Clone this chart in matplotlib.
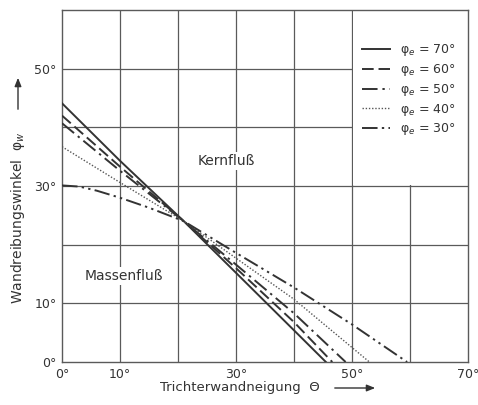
import matplotlib
matplotlib.use("Agg")
import matplotlib.pyplot as plt
from matplotlib.patches import Rectangle, FancyArrowPatch

plt.rcParams['font.family'] = ['DejaVu Sans']
plt.rcParams['mathtext.fontset'] = 'dejavusans'

# data (theta in deg, phi_w in deg)
theta_70 = [0, 10, 21, 30, 40, 45.5]
phi_70 = [44.1, 34.3, 24.0, 15.2, 5.4, 0]

theta_60 = [0, 10, 21, 30, 40, 46.6]
phi_60 = [42.0, 33.3, 24.0, 16.0, 6.8, 0]

theta_50 = [0, 10, 21, 30, 40, 48.9]
phi_50 = [40.7, 32.6, 24.0, 16.6, 8.3, 0]

theta_40 = [0, 10, 21, 30, 40, 53.0]
phi_40 = [36.7, 30.6, 24.0, 17.7, 10.7, 0]

theta_30 = [0, 3, 6, 10, 15, 21, 30, 40, 50, 59.5]
phi_30 = [30.1, 29.9, 29.2, 28.0, 26.3, 24.0, 18.6, 12.7, 6.4, 0]

series_labels = ["70°", "60°", "50°", "40°", "30°"]
x_ticks = [0, 10, 30, 50, 70]
x_ticklabels = ["0°", "10°", "30°", "50°", "70°"]
y_ticks = [0, 10, 30, 50]
y_ticklabels = ["0°", "10°", "30°", "50°"]

ink = "#333333"
gridc = "#5a5a5a"

fig = plt.figure(figsize=(4.78, 4.05), dpi=100)
ax = fig.add_axes([62/478, 43/405, 406/478, 352/405])
ax.set_xlim(0, 70)
ax.set_ylim(0, 60)

for g in range(10, 70, 10):
    ax.axvline(g, color=gridc, lw=0.9, zorder=1)
for g in range(10, 60, 10):
    ax.axhline(g, color=gridc, lw=0.9, zorder=1)

# white legend area covering grid
ax.add_patch(Rectangle((50.25, 30.25), 19.75, 29.75, facecolor="white",
                       edgecolor="none", zorder=2))

styles = ["-", (0, (6, 2.5)), (0, (8, 2.5, 1.2, 2.5)), (0, (1, 1.3)),
          (0, (8, 2.2, 1.2, 2.2, 1.2, 2.2))]
widths = [1.4, 1.4, 1.4, 1.0, 1.4]
colors = [ink, ink, ink, "#555555", ink]
data = [(theta_70, phi_70), (theta_60, phi_60), (theta_50, phi_50),
        (theta_40, phi_40), (theta_30, phi_30)]
for (tx, py), ls, lw, c, lab in zip(data, styles, widths, colors, series_labels):
    ax.plot(tx, py, linestyle=ls, lw=lw, color=c, zorder=3,
            label="φ$_e$ = " + lab)

leg = ax.legend(loc="upper left", bbox_to_anchor=(0.739, 0.908), frameon=False,
                fontsize=9, handlelength=2.2, handletextpad=0.8,
                labelspacing=0.3, borderpad=0, borderaxespad=0,
                labelcolor=ink)

ax.text(28.3, 34.2, "Kernfluß", ha="center", va="center", fontsize=10,
        color=ink, zorder=4,
        bbox=dict(facecolor="white", edgecolor="none", pad=1.5))
ax.text(10.7, 14.7, "Massenfluß", ha="center", va="center", fontsize=10,
        color=ink, zorder=4,
        bbox=dict(facecolor="white", edgecolor="none", pad=1.5))

ax.set_xticks(x_ticks)
ax.set_xticklabels(x_ticklabels)
ax.set_yticks(y_ticks)
ax.set_yticklabels(y_ticklabels)
ax.tick_params(length=0, labelsize=9, colors=ink, pad=4)
for s in ax.spines.values():
    s.set_color(gridc)
    s.set_linewidth(1.0)

fig.text(240/478, 1 - 388/405, "Trichterwandneigung  Θ", ha="center",
         va="center", fontsize=9.5, color=ink)
fig.text(18/478, 1 - 218/405, "Wandreibungswinkel  φ$_w$", ha="center",
         va="center", rotation=90, fontsize=10, color=ink)

fig.patches.append(FancyArrowPatch(
    (332/478, 1 - 388/405), (378/478, 1 - 388/405), transform=fig.transFigure,
    arrowstyle="-|>,head_length=5,head_width=2", color=ink, lw=1.0,
    mutation_scale=1))
fig.patches.append(FancyArrowPatch(
    (18/478, 1 - 112/405), (18/478, 1 - 75/405), transform=fig.transFigure,
    arrowstyle="-|>,head_length=5,head_width=2", color=ink, lw=1.0,
    mutation_scale=1))

fig.savefig("out.png", dpi=100, facecolor="white")
